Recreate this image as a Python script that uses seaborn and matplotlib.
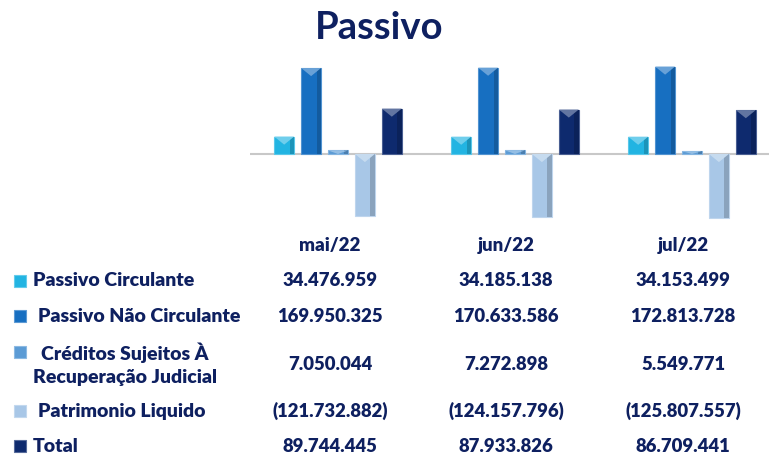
import matplotlib
matplotlib.use("Agg")
import matplotlib.pyplot as plt
from matplotlib.patches import Rectangle, Polygon
import seaborn as sns
import pandas as pd

# data
months = ["mai/22", "jun/22", "jul/22"]
series = ["Passivo Circulante", "Passivo Não Circulante",
          "Créditos Sujeitos À\nRecuperação Judicial", "Patrimonio Liquido", "Total"]
passivo_circulante = [34476959, 34185138, 34153499]
passivo_nao_circulante = [169950325, 170633586, 172813728]
creditos_rj = [7050044, 7272898, 5549771]
patrimonio_liquido = [-121732882, -124157796, -125807557]
total = [89744445, 87933826, 86709441]

colors = ["#22B4E2", "#176FC1", "#5B9BD5", "#A8C7E7", "#0E2A6E"]
text_color = "#0E2060"


def fmt(v):
    s = "{:,}".format(abs(v)).replace(",", ".")
    return "({})".format(s) if v < 0 else s


def shade(c, f):
    # f > 0 lightens, f < 0 darkens
    r, g, b = matplotlib.colors.to_rgb(c)
    if f >= 0:
        return (r + (1 - r) * f, g + (1 - g) * f, b + (1 - b) * f)
    return (r * (1 + f), g * (1 + f), b * (1 + f))


values = [passivo_circulante, passivo_nao_circulante, creditos_rj, patrimonio_liquido, total]
rows = []
for name, vals in zip(series, values):
    for m, v in zip(months, vals):
        rows.append({"mes": m, "serie": name, "valor": v / 1e6})
df = pd.DataFrame(rows)

sns.set_theme(style="white")
plt.rcParams['font.family'] = ['Lato', 'DejaVu Sans']

W, H = 769, 455
fig = plt.figure(figsize=(W / 100, H / 100), dpi=100)

# axes in pixel coordinates
ax_l, ax_r, ax_t, ax_b = 249.5, 769, 60, 222
ax = fig.add_axes([ax_l / W, 1 - ax_b / H, (ax_r - ax_l) / W, (ax_b - ax_t) / H])
sns.barplot(ax=ax, data=df, x="mes", y="valor", hue="serie", palette=colors,
            width=0.76, gap=0.26, legend=False, edgecolor="none", saturation=1)
ax.set_xlim(-0.5, 2.435)
ax.set_ylim(-134.4, 185.8)
ax.axhline(0, color="#C8C8C8", lw=1.5, zorder=0)
ax.axis("off")

# bevel look on each bar (derived from the drawn patches)
for i, p in enumerate(ax.patches):
    c = colors[i // 3]
    x0, w = p.get_x(), p.get_width()
    y0, h = p.get_y(), p.get_height()
    top = max(y0, y0 + h)
    bottom = min(y0, y0 + h)
    depth = min(abs(h), 16.0)
    side = Rectangle((x0 + w * 0.78, bottom), w * 0.22, abs(h),
                     color=shade(c, -0.18), lw=0, zorder=2.5)
    ax.add_patch(side)
    tri = Polygon([(x0, top), (x0 + w, top), (x0 + w / 2, top - depth)],
                  closed=True, color=shade(c, 0.35), lw=0, zorder=3)
    ax.add_patch(tri)
    p.set_edgecolor(shade(c, 0.25))
    p.set_linewidth(0.8)

fig.text(379 / W, 1 - 28 / H, "Passivo", ha="center", va="center",
         fontsize=27.5, fontweight="bold", color=text_color)

col_x = [330, 506, 683]
for x, m in zip(col_x, months):
    fig.text(x / W, 1 - 245 / H, m, ha="center", va="center",
             fontsize=13.5, fontweight="heavy", color=text_color)

row_y = [281, 316, 364, 411, 446]
label_x = [33, 38, 125, 38, 33]
label_ha = ["left", "left", "center", "left", "left"]
for k, (name, vals) in enumerate(zip(series, values)):
    y = 1 - row_y[k] / H
    fig.text(label_x[k] / W, y, name, ha=label_ha[k], va="center", fontsize=14,
             fontweight="heavy", color=text_color, linespacing=1.45,
             multialignment="center")
    for x, v in zip(col_x, vals):
        fig.text(x / W, y, fmt(v), ha="center", va="center", fontsize=13.3,
                 fontweight="heavy", color=text_color)
    # legend key
    ky = row_y[k] if k != 2 else 352
    sq = Rectangle(((20 - 6) / W, 1 - (ky + 6) / H), 12 / W, 12 / H,
                   transform=fig.transFigure, facecolor=colors[k],
                   edgecolor=shade(colors[k], 0.3), lw=0.8)
    fig.add_artist(sq)

fig.savefig("out.png", dpi=100)
